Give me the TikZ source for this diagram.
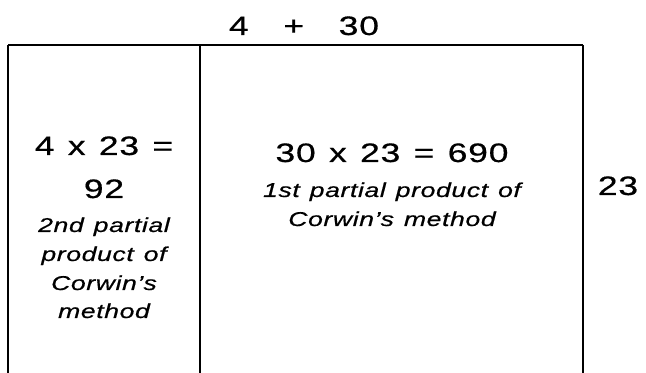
\documentclass[tikz,border=0pt]{standalone}
\usepackage{fontspec}
\setmainfont{Liberation Sans}[FakeStretch=1.33, WordSpace=1.25, LetterSpace=3, FakeBold=0.6]
\usepackage{tikz}
\usetikzlibrary{positioning}

\begin{document}
\begin{tikzpicture}[
            x=0.75pt, y=-0.75pt,
            big/.style={anchor=base, inner sep=0pt, font=\fontsize{20}{23}\selectfont},
            note/.style={anchor=base, inner sep=0pt, font=\fontsize{15}{18}\selectfont\itshape},
            wall/.style={draw=black, line width=2.2pt}
          ]
          \useasboundingbox (0,0) rectangle (646,373);

          % the area split in two
          \draw[wall] (8,45) -- (583,45);
          \draw[wall] (8,45) -- (8,373);
          \draw[wall] (200,45) -- (200,373);
          \draw[wall] (583,45) -- (583,373);

          % sides
          \node[big] (top) at (304,35) {4\hspace{1.3em}+\hspace{1.3em}30};
          \node[big] (side) at (618,195) {23};

          % left part
          \node[big]  (l1) at (104,155) {4 x 23 =};
          \node[big]  (l2) at (104,198) {92};
          \node[note] (l3) at (104,232) {2nd partial};
          \node[note] (l4) at (104,261) {product of};
          \node[note] (l5) at (104,290) {Corwin's};
          \node[note] (l6) at (104,318) {method};

          % right part
          \node[big]  (r1) at (392,162) {30 x 23 = 690};
          \node[note] (r2) at (392,197) {1st partial product of};
          \node[note] (r3) at (392,226) {Corwin's method};
        \end{tikzpicture}
\end{document}
